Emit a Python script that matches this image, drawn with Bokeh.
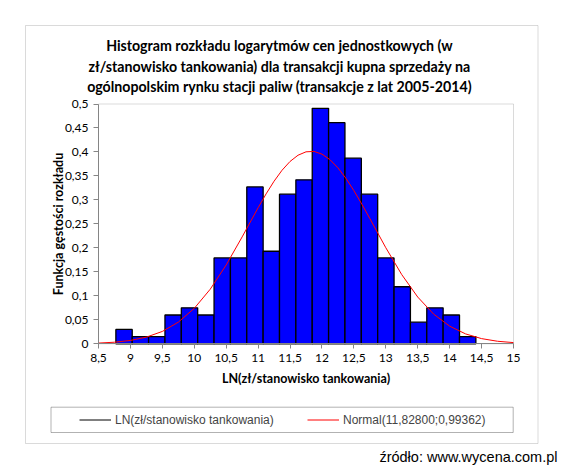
from bokeh.plotting import figure
from bokeh.models import Range1d, FixedTicker, Label, BoxAnnotation, Legend, LegendItem
from bokeh.embed import file_html
from bokeh.resources import INLINE

# ---- texts ----
title_lines = [
    "Histogram rozkładu logarytmów cen jednostkowych (w",
    "zł/stanowisko tankowania) dla transakcji kupna sprzedaży na",
    "ogólnopolskim rynku stacji paliw (transakcje z lat 2005-2014)",
]
x_title = "LN(zł/stanowisko tankowania)"
y_title = "Funkcja gęstości rozkładu"
series_hist = "LN(zł/stanowisko tankowania)"
series_norm = "Normal(11,82800;0,99362)"
source_text = "źródło: www.wycena.com.pl"

# ---- histogram (equal-width bins) ----
bin_start = 8.772
bin_width = 0.2563
density = [0.030, 0.015, 0.015, 0.060, 0.075, 0.060, 0.179, 0.179, 0.327, 0.193, 0.312,
           0.342, 0.491, 0.461, 0.387, 0.312, 0.179, 0.119, 0.045, 0.075, 0.060, 0.015]

# ---- fitted normal curve ----
curve_x = [8.5, 8.75, 9.0, 9.25, 9.5, 9.75, 10.0, 10.25, 10.5, 10.75, 11.0, 11.125, 11.25,
           11.375, 11.5, 11.625, 11.75, 11.875, 12.0, 12.125, 12.25, 12.375, 12.5, 12.625,
           12.75, 13.0, 13.25, 13.5, 13.75, 14.0, 14.25, 14.5, 14.75, 15.0]
curve_y = [0.0015, 0.0033, 0.0070, 0.0139, 0.0258, 0.0451, 0.0739, 0.1138, 0.1644, 0.2229,
           0.2837, 0.3126, 0.3390, 0.3619, 0.3802, 0.3932, 0.4003, 0.4011, 0.3955, 0.3840,
           0.3669, 0.3451, 0.3194, 0.2911, 0.2611, 0.2003, 0.1442, 0.0975, 0.0618, 0.0368,
           0.0206, 0.0108, 0.0053, 0.0025]

# ---- axes ----
x_lo, x_hi = 8.5, 15.0
y_lo, y_hi = 0.0, 0.5
x_tick_values = [8.5, 9.0, 9.5, 10.0, 10.5, 11.0, 11.5, 12.0, 12.5, 13.0, 13.5, 14.0, 14.5, 15.0]
x_tick_labels = ["8,5", "9", "9,5", "10", "10,5", "11", "11,5", "12", "12,5", "13", "13,5",
                 "14", "14,5", "15"]
y_tick_values = [0.0, 0.05, 0.1, 0.15, 0.2, 0.25, 0.3, 0.35, 0.4, 0.45, 0.5]
y_tick_labels = ["0", "0,05", "0,1", "0,15", "0,2", "0,25", "0,3", "0,35", "0,4", "0,45", "0,5"]

# ---- layout (pixels) ----
W, H = 564, 469
PL, PR, PT, PB = 98.0, 513.0, 103.5, 343.3   # inner plot area
sx = (PR - PL) / (x_hi - x_lo)
sy = (PB - PT) / (y_hi - y_lo)

def scr_y(py):
    return H - py

TICK_FONT = "Lato"
AXIS_GRAY = "#868686"

lefts = [bin_start + i * bin_width for i in range(len(density))]
rights = [l + bin_width for l in lefts]

p = figure(width=W, height=H,
           x_range=Range1d(x_lo - PL / sx, x_hi + (W - PR) / sx),
           y_range=Range1d(y_lo - (H - PB) / sy, y_hi + PT / sy),
           output_backend="svg", toolbar_location=None,
           min_border=0, min_border_left=0, min_border_right=0,
           min_border_top=0, min_border_bottom=0)
p.title.visible = False
p.grid.visible = False
p.outline_line_color = None
p.background_fill_color = "white"
p.border_fill_color = "white"

p.quad(left=lefts, right=rights, top=density, bottom=0,
       fill_color="#0000FF", line_color="black", line_width=1.3)
r_norm = p.line(curve_x, curve_y, line_color="#FF0000", line_width=1)
r_dummy = p.line(x=[float("nan")], y=[float("nan")], line_color="black", line_width=1)

# inner plot-area frame
p.add_layout(BoxAnnotation(left=x_lo, right=x_hi, bottom=y_lo, top=y_hi,
                           fill_alpha=0, line_color=AXIS_GRAY, line_width=1))

for ax, vals, labs, loc, bnds in ((p.xaxis[0], x_tick_values, x_tick_labels, y_lo, (x_lo, x_hi)),
                                  (p.yaxis[0], y_tick_values, y_tick_labels, x_lo, (y_lo, y_hi))):
    ax.fixed_location = loc
    ax.bounds = bnds
    ax.ticker = FixedTicker(ticks=vals, minor_ticks=[])
    ax.major_label_overrides = dict(zip(vals, labs))
    ax.axis_line_color = AXIS_GRAY
    ax.major_tick_line_color = AXIS_GRAY
    ax.major_tick_out = 5
    ax.major_tick_in = 0
    ax.minor_tick_out = 0
    ax.minor_tick_in = 0
    ax.major_label_text_font = TICK_FONT
    ax.major_label_text_font_size = "12px"
    ax.major_label_text_color = "black"
    ax.axis_label_text_font = TICK_FONT
    ax.axis_label_text_font_style = "bold"
    ax.axis_label_text_font_size = "12.5px"
    ax.axis_label_text_color = "black"

p.xaxis.axis_label = x_title
p.xaxis.major_label_standoff = 5
p.xaxis.axis_label_standoff = 6
p.yaxis.axis_label = y_title
p.yaxis.major_label_standoff = 5
p.yaxis.axis_label_standoff = -4

# outer chart box and legend box (screen units)
p.add_layout(BoxAnnotation(left=25, right=537.5, bottom=scr_y(443), top=scr_y(25),
                           left_units="screen", right_units="screen",
                           top_units="screen", bottom_units="screen",
                           fill_alpha=0, line_color=AXIS_GRAY, line_width=1))
p.add_layout(BoxAnnotation(left=50.5, right=512.7, bottom=scr_y(432), top=scr_y(406.7),
                           left_units="screen", right_units="screen",
                           top_units="screen", bottom_units="screen",
                           fill_alpha=0, line_color="black", line_width=1))

legend = Legend(items=[LegendItem(label=series_hist, renderers=[r_dummy]),
                       LegendItem(label=series_norm, renderers=[r_norm])],
                orientation="horizontal", location=(79, scr_y(427)),
                padding=0, margin=0, spacing=31, glyph_width=32, glyph_height=15,
                label_standoff=4, label_width=161, label_height=15,
                label_text_font="Liberation Sans", label_text_font_size="12px",
                border_line_color=None, background_fill_alpha=0)
p.add_layout(legend)

for line, py in zip(title_lines, [45, 66, 86]):
    p.add_layout(Label(x=279, y=scr_y(py), x_units="screen", y_units="screen", text=line,
                       text_align="center", text_baseline="middle",
                       text_font="Lato", text_font_style="bold", text_font_size="14.2px",
                       text_color="black"))

p.add_layout(Label(x=557, y=scr_y(456), x_units="screen", y_units="screen", text=source_text,
                   text_align="right", text_baseline="middle",
                   text_font="Liberation Sans", text_font_size="14.5px", text_color="black"))

open("out.html", "w").write(file_html(p, INLINE))
